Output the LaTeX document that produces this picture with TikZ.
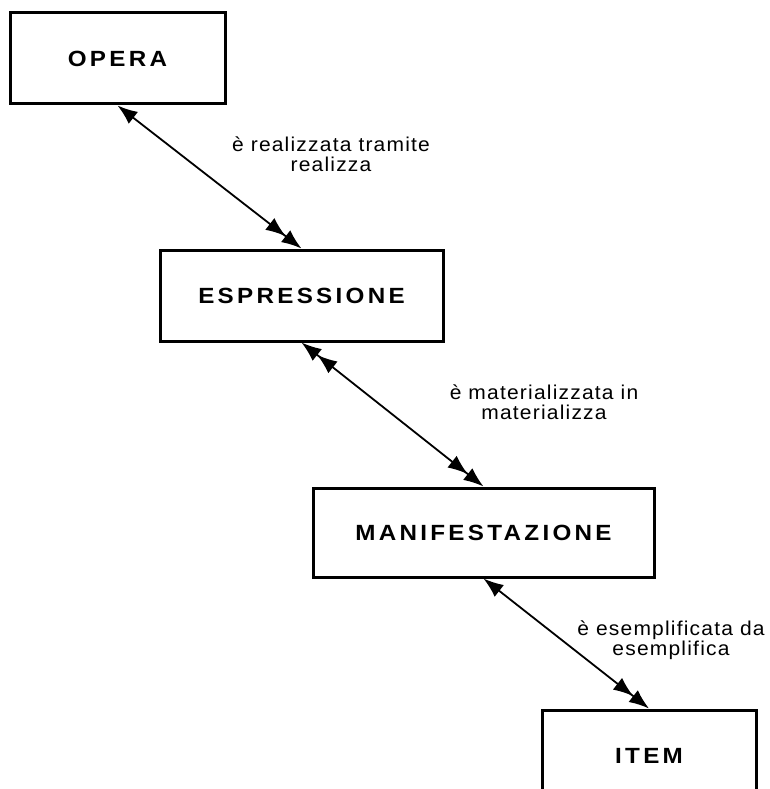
\documentclass[tikz,border=0pt]{standalone}
\usepackage{fontspec}
\setmainfont{Liberation Sans}
\newfontfamily\boxfont{Liberation Sans}[LetterSpace=15,FakeStretch=1.1]
\newfontfamily\labfont{Liberation Sans}[LetterSpace=6,FakeStretch=1.05]
\usetikzlibrary{arrows.meta}
\begin{document}
\begin{tikzpicture}[x=1pt,y=-1pt,
  entity/.style={draw=black,line width=3pt,fill=white,inner sep=0pt,
    font=\boxfont\bfseries\fontsize{22}{24}\selectfont},
  rel/.style={line width=1.8pt,draw=black},
  lab/.style={align=center,inner sep=0pt,
    font=\labfont\fontsize{20}{20}\selectfont},
  >={Latex[length=20pt,width=15pt]}]
\useasboundingbox (0,0) rectangle (770,789);
\clip (0,0) rectangle (770,789);
\node[entity,minimum width=215pt,minimum height=91pt] (opera) at (117.5,58.5) {OPERA};
\node[entity,minimum width=283pt,minimum height=91pt] (espr) at (301.5,295.5) {ESPRESSIONE};
\node[entity,minimum width=341pt,minimum height=89pt] (manif) at (483.5,532.5) {MANIFESTAZIONE};
\node[entity,minimum width=214pt,minimum height=91pt] (item) at (649,755.5) {ITEM};
\draw[rel,<->>] (opera.south) -- (espr.north);
\draw[rel,<<->>] (espr.south) -- (manif.north);
\draw[rel,<->>] (manif.south) -- (item.north);
\node[lab] (l1) at (331,154) {è realizzata tramite\\realizza};
\node[lab] (l2) at (544,402) {è materializzata in\\materializza};
\node[lab] (l3) at (671,640) {è esemplificata da\\esemplifica};
\end{tikzpicture}
\end{document}
